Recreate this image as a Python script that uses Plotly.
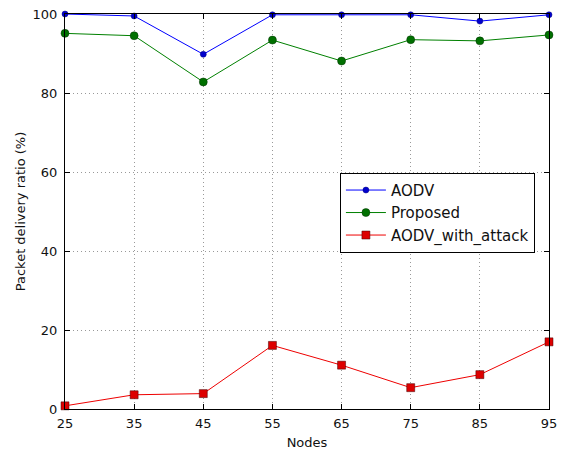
import plotly.graph_objects as go

nodes = [25, 35, 45, 55, 65, 75, 85, 95]
aodv = [100.0, 99.5, 89.8, 99.8, 99.8, 99.8, 98.2, 99.8]
proposed = [95.1, 94.5, 82.8, 93.4, 88.1, 93.5, 93.2, 94.7]
aodv_attack = [0.8, 3.6, 3.9, 16.1, 11.1, 5.4, 8.7, 17.0]

font = "DejaVu Sans"
fig = go.Figure()
fig.add_trace(go.Scatter(x=nodes, y=aodv, name="AODV", mode="lines+markers",
                         line=dict(color="#0000ff", width=1),
                         marker=dict(symbol="circle", size=6, color="#0000cc",
                                     line=dict(color="#000080", width=0.5)),
                         cliponaxis=False))
fig.add_trace(go.Scatter(x=nodes, y=proposed, name="Proposed", mode="lines+markers",
                         line=dict(color="#008000", width=1),
                         marker=dict(symbol="circle", size=8, color="#007000",
                                     line=dict(color="#003000", width=0.5)),
                         cliponaxis=False))
fig.add_trace(go.Scatter(x=nodes, y=aodv_attack, name="AODV_with_attack", mode="lines+markers",
                         line=dict(color="#ee0000", width=1),
                         marker=dict(symbol="square", size=8, color="#dd0000",
                                     line=dict(color="#400000", width=0.5)),
                         cliponaxis=False))

axis_common = dict(showline=True, linecolor="black", linewidth=1, mirror="ticks",
                   ticks="inside", ticklen=5, tickcolor="black", automargin=False,
                   showgrid=True, gridcolor="#999999", griddash="1px,3px", gridwidth=1,
                   zeroline=False, tickfont=dict(family=font, size=13, color="#111111"))

fig.update_layout(
    width=563, height=450,
    margin=dict(l=65, r=14, t=14, b=41),
    paper_bgcolor="white", plot_bgcolor="white",
    font=dict(family=font, color="#111111"),
    xaxis=dict(range=[25, 95], tickvals=nodes, ticklabelstandoff=2,
               title=dict(text="Nodes", font=dict(family=font, size=13), standoff=8), **axis_common),
    yaxis=dict(range=[0, 100], tickvals=[0, 20, 40, 60, 80, 100], ticklabelstandoff=4,
               title=dict(text="Packet delivery ratio (%)", font=dict(family=font, size=13), standoff=4), **axis_common),
    legend=dict(x=0.568, y=0.598, xanchor="left", yanchor="top",
                bordercolor="black", borderwidth=1, bgcolor="white",
                font=dict(family=font, size=15), tracegroupgap=0, itemwidth=40),
    showlegend=True,
)
fig.write_html("out.html", config={"displayModeBar": False},
               post_script="document.body.style.margin='0px';")
